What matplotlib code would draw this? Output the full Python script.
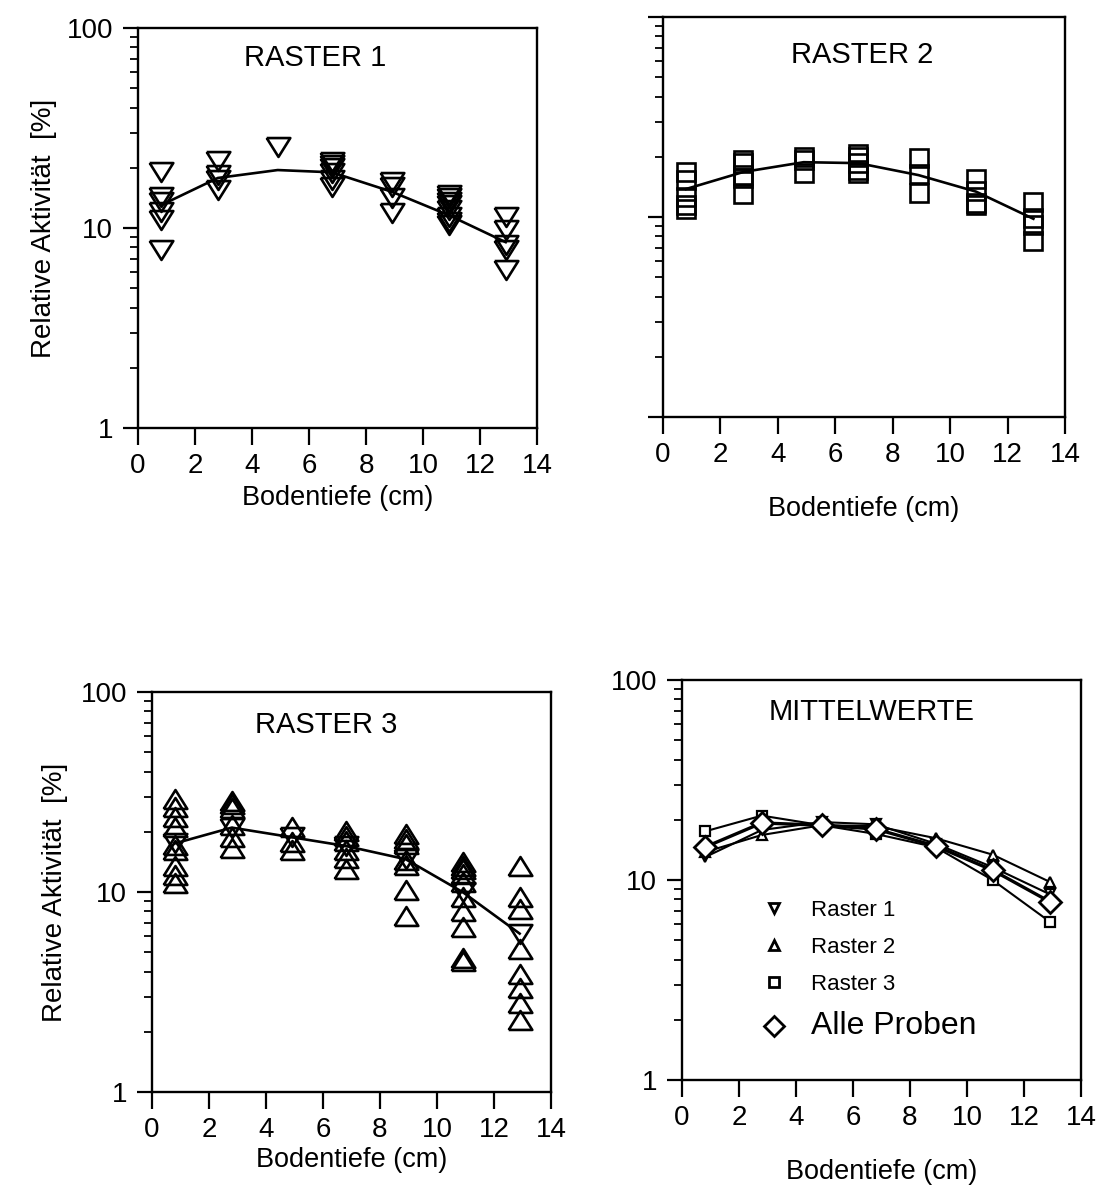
import matplotlib.pyplot as plt
import numpy as np
from matplotlib.lines import Line2D
from matplotlib.ticker import LogLocator, NullFormatter

plt.rcParams['font.family'] = ['Liberation Sans', 'DejaVu Sans']

# soil depth of the sampling layers (cm)
depth = [0.8, 2.8, 4.9, 6.8, 8.9, 10.9, 12.9]

# single samples, relative activity in %
raster1_pts = [[19.1, 14.3, 13.5, 12.0, 11.0, 7.8],
               [21.6, 18.4, 17.4, 15.5],
               [25.4],
               [21.3, 20.6, 19.9, 18.8, 17.4, 16.1],
               [17.0, 16.0, 14.1, 11.9],
               [14.6, 14.1, 13.5, 13.0, 12.3, 11.3, 10.7, 10.4],
               [11.3, 9.8, 8.2, 7.8, 6.2]]
raster2_pts = [[16.8, 15.3, 12.6, 11.5, 11.0],
               [19.3, 18.6, 16.2, 15.7, 13.0],
               [20.0, 19.3, 16.6],
               [20.7, 20.0, 18.6, 17.2, 16.6],
               [19.7, 16.4, 13.2],
               [15.5, 13.5, 11.7, 11.5],
               [11.9, 9.9, 9.1, 7.6]]
raster3_pts = [[29.2, 26.6, 23.7, 21.1, 17.2, 16.2, 13.5, 12.2, 11.1],
               [28.5, 27.5, 26.3, 21.6, 18.8, 16.6],
               [21.1, 17.8, 16.2],
               [20.2, 19.1, 18.0, 16.2, 14.8, 13.1],
               [19.5, 18.4, 17.4, 14.5, 13.7, 10.2, 7.6],
               [14.1, 13.5, 13.0, 12.3, 11.2, 9.5, 8.0, 6.7, 4.7, 4.5],
               [13.5, 9.5, 8.2, 5.2, 3.9, 3.3, 2.8, 2.3]]

# mean values
raster1_mean = [13.0, 17.8, 19.5, 19.0, 15.2, 11.6, 8.5]
raster2_mean = [13.8, 16.8, 18.8, 18.6, 16.2, 13.4, 9.8]
raster3_mean = [17.5, 21.0, 18.8, 17.0, 14.6, 10.0, 6.2]
alle_mean = [14.6, 19.3, 18.8, 18.0, 14.8, 11.2, 7.8]

legend_labels = ['Raster 1', 'Raster 2', 'Raster 3', 'Alle Proben']

# slightly flattened triangles like in the original
tri_down = [(-1, 0.8), (1, 0.8), (0, -0.8), (-1, 0.8)]
tri_up = [(-1, -0.8), (1, -0.8), (0, 0.8), (-1, -0.8)]


def setup(ax, ylabels=True, xpad=5):
    ax.set_yscale('log')
    ax.set_ylim(1, 100)
    ax.set_xlim(0, 14)
    ax.set_xticks(range(0, 15, 2))
    ax.set_yticks([1, 10, 100])
    if ylabels:
        ax.set_yticklabels(['1', '10', '100'])
    else:
        ax.set_yticklabels([])
    ax.yaxis.set_minor_locator(LogLocator(base=10, subs=range(2, 10)))
    ax.yaxis.set_minor_formatter(NullFormatter())
    ax.tick_params(axis='x', direction='out', length=12, width=1.6,
                   labelsize=20, pad=6)
    ax.tick_params(axis='y', which='major', direction='out', length=11,
                   width=1.6, labelsize=20, pad=7)
    ax.tick_params(axis='y', which='minor', direction='out', length=6, width=1.3)
    for s in ax.spines.values():
        s.set_linewidth(1.7)
    ax.set_xlabel('Bodentiefe (cm)', fontsize=19.5, labelpad=xpad)


def samples(ax, pts, marker, ms):
    xs = np.concatenate([[d] * len(v) for d, v in zip(depth, pts)])
    ys = np.concatenate(pts)
    ax.plot(xs, ys, ls='none', marker=marker, ms=ms, mfc='none',
            mec='black', mew=1.9)


fig = plt.figure(figsize=(10.98, 11.99), dpi=100)

ax1 = fig.add_axes([0.1257, 0.6430, 0.3634, 0.3336])
ax2 = fig.add_axes([0.6038, 0.6522, 0.3661, 0.3336])
ax3 = fig.add_axes([0.1384, 0.0892, 0.3634, 0.3336])
ax4 = fig.add_axes([0.6211, 0.0992, 0.3634, 0.3336])

# RASTER 1
setup(ax1, xpad=4)
samples(ax1, raster1_pts, tri_down, 17)
ax1.plot(depth, raster1_mean, color='black', lw=1.9)
ax1.text(0.444, 0.925, 'RASTER 1', transform=ax1.transAxes,
         ha='center', va='center', fontsize=21)
ax1.set_ylabel('Relative Aktivität  [%]', fontsize=20, labelpad=7)

# RASTER 2
setup(ax2, ylabels=False, xpad=20)
samples(ax2, raster2_pts, 's', 13.5)
ax2.plot(depth, raster2_mean, color='black', lw=1.9)
ax2.text(0.495, 0.905, 'RASTER 2', transform=ax2.transAxes,
         ha='center', va='center', fontsize=21)

# RASTER 3
setup(ax3, xpad=3)
samples(ax3, raster3_pts, tri_up, 17)
ax3.plot(depth, raster3_mean, color='black', lw=1.9, marker=tri_down,
         ms=17, mfc='none', mec='black', mew=1.9)
ax3.text(0.436, 0.918, 'RASTER 3', transform=ax3.transAxes,
         ha='center', va='center', fontsize=21)
ax3.set_ylabel('Relative Aktivität  [%]', fontsize=20, labelpad=9)

# MITTELWERTE
setup(ax4, xpad=20)
ax4.plot(depth, raster1_mean, color='black', lw=1.5, marker='v', ms=7.5,
         mfc='white', mec='black', mew=1.6)
ax4.plot(depth, raster2_mean, color='black', lw=1.5, marker='^', ms=7.5,
         mfc='white', mec='black', mew=1.6)
ax4.plot(depth, raster3_mean, color='black', lw=1.5, marker='s', ms=7,
         mfc='white', mec='black', mew=1.6)
ax4.plot(depth, alle_mean, color='black', lw=2.4, marker='D', ms=11.5,
         mfc='white', mec='black', mew=2.0, zorder=5)
ax4.text(0.476, 0.92, 'MITTELWERTE', transform=ax4.transAxes,
         ha='center', va='center', fontsize=21)

handles = [Line2D([], [], ls='none', marker='v', ms=7.5, mfc='none', mec='black', mew=2),
           Line2D([], [], ls='none', marker='^', ms=7.5, mfc='none', mec='black', mew=2),
           Line2D([], [], ls='none', marker='s', ms=7, mfc='none', mec='black', mew=2),
           Line2D([], [], ls='none', marker='D', ms=10, mfc='none', mec='black', mew=2)]
leg = ax4.legend(handles, legend_labels, loc='upper left',
                 bbox_to_anchor=(0.17, 0.478), frameon=False, fontsize=16,
                 handlelength=1.2, handletextpad=1.05, borderpad=0,
                 labelspacing=0.72)
leg.get_texts()[3].set_fontsize(23)

fig.savefig('out.png', dpi=100)
